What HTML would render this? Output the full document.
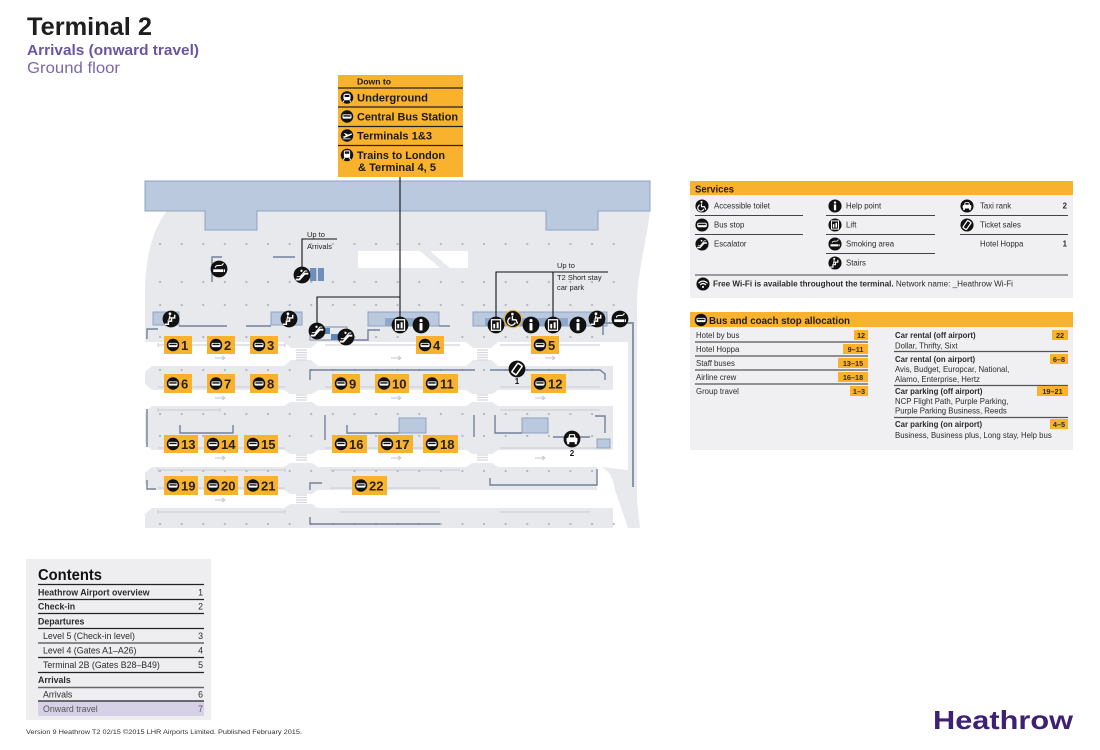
<!DOCTYPE html>
<html><head><meta charset="utf-8"><title>Terminal 2 Arrivals (onward travel)</title>
<style>
html,body{margin:0;padding:0;background:#fff;}
svg{display:block;font-family:"Liberation Sans",sans-serif;}
.b{font-weight:bold;}
</style></head><body>
<svg width="1100" height="750" viewBox="0 0 1100 750" xmlns="http://www.w3.org/2000/svg">
<defs>
<g id="ibus"><circle r="8" fill="#111"/><rect x="-5.8" y="-2.7" width="11.6" height="5.4" rx="1.6" fill="#fff"/><rect x="-4.6" y="-1.6" width="9.2" height="1.8" fill="#111"/></g>
<g id="iinfo"><circle r="8" fill="#111"/><circle cx="0" cy="-4.2" r="1.5" fill="#fff"/><rect x="-1.4" y="-1.8" width="2.8" height="7" fill="#fff"/></g>
<g id="ilift"><circle r="8" fill="#111"/><rect x="-4.3" y="-5" width="8.6" height="10" fill="none" stroke="#fff" stroke-width="1.2"/><rect x="-2.6" y="-1" width="1.8" height="4.2" fill="#fff"/><rect x="0.6" y="-2.6" width="1.9" height="5.8" fill="#fff"/></g>
<g id="iesc"><circle r="8" fill="#111"/><path d="M-6,4.3 L-2.5,4.3 L2.5,-1.2 L6,-1.2" stroke="#fff" stroke-width="1.8" fill="none"/><path d="M-5,1.6 L-1.8,1.6 L2.8,-3.8 L5,-3.8" stroke="#fff" stroke-width="0.9" fill="none"/><circle cx="-0.5" cy="-4" r="1.1" fill="#fff"/></g>
<g id="istairs"><circle r="8" fill="#111"/><path d="M-6,5 L-2.5,5 L-2.5,2 L0.5,2 L0.5,-1 L3.5,-1 L3.5,-4" stroke="#fff" stroke-width="1.4" fill="none"/><circle cx="-1" cy="-5" r="1.3" fill="#fff"/><path d="M-1,-3.5 L-2,1 M-1.5,-1.5 L1,-0.5" stroke="#fff" stroke-width="1.1"/></g>
<g id="ismoke"><circle r="8" fill="#111"/><rect x="-5.5" y="0.3" width="9.5" height="2.6" fill="#fff"/><rect x="4.6" y="0.3" width="1.1" height="2.6" fill="#fff"/><path d="M-3.5,-1.3 Q-3.5,-3.6 0.5,-3.4 Q4,-3.3 4,-5.6" stroke="#fff" stroke-width="1" fill="none"/></g>
<g id="iwc"><circle r="8" fill="#111"/><circle cx="-0.6" cy="-5" r="1.3" fill="#fff"/><path d="M-0.6,-3.2 L-0.6,0.8 L3,0.8 L4.6,4.6" stroke="#fff" stroke-width="1.4" fill="none"/><path d="M-2.6,-1.2 A3.8,3.8 0 1 0 2.2,3.6" stroke="#fff" stroke-width="1.3" fill="none"/></g>
<g id="itaxi"><circle r="8" fill="#111"/><path d="M-3.6,-1 L-2.6,-4.6 L2.6,-4.6 L3.6,-1 Z" fill="#fff"/><rect x="-5.2" y="-1.2" width="10.4" height="4.2" rx="1" fill="#fff"/><rect x="-4.6" y="2.8" width="2" height="2.2" fill="#fff"/><rect x="2.6" y="2.8" width="2" height="2.2" fill="#fff"/><rect x="-2" y="-3.6" width="4" height="2" fill="#111"/></g>
<g id="iticket"><circle r="8" fill="#111"/><rect x="-2.6" y="-5.2" width="5.2" height="10.4" rx="1" fill="none" stroke="#fff" stroke-width="1.5" transform="rotate(35)"/></g>
<g id="itube"><circle r="8" fill="#111"/><rect x="-4.6" y="-5" width="9.2" height="8.6" rx="3" fill="#fff"/><rect x="-3" y="-3.4" width="6" height="2.8" fill="#111"/><path d="M-3.5,3.5 L-5,6 M3.5,3.5 L5,6" stroke="#fff" stroke-width="1.2"/></g>
<g id="iplane"><circle r="8" fill="#111"/><path d="M-6,2 L5,-2.5 Q7,-3 6,-1 L-3,3 Z M-1,0.5 L-4,-3 L-2.5,-3 L2,-0.8 Z" fill="#fff"/><rect x="-5.5" y="3.8" width="10" height="1" fill="#fff"/></g>
<g id="itrain"><circle r="8" fill="#111"/><rect x="-4" y="-6" width="8" height="9.6" rx="2" fill="#fff"/><rect x="-2.8" y="-4.6" width="5.6" height="3" fill="#111"/><path d="M-3,3.5 L-4.6,6.2 M3,3.5 L4.6,6.2" stroke="#fff" stroke-width="1.2"/></g>
<g id="iwifi"><circle r="8" fill="#111"/><path d="M-5.5,-1 Q0,-6 5.5,-1 M-3.6,1.2 Q0,-2.4 3.6,1.2" stroke="#fff" stroke-width="1.4" fill="none"/><circle cx="0" cy="3.6" r="1.3" fill="#fff"/></g>
</defs>

<!-- Title -->
<text x="27" y="35" font-size="25" class="b" fill="#1e1e1e" textLength="125" lengthAdjust="spacingAndGlyphs">Terminal 2</text>
<text x="27" y="55" font-size="15" class="b" fill="#6b55a3" textLength="172" lengthAdjust="spacingAndGlyphs">Arrivals (onward travel)</text>
<text x="27" y="73" font-size="16" fill="#7b68ae" textLength="93" lengthAdjust="spacingAndGlyphs">Ground floor</text>

<!-- ============ MAP ============ -->
<path d="M167,211 L650,211 C646,245 638,270 637,300 L637,528 L145,528 L145,288 C146,255 153,228 167,211 Z" fill="#e8e9ec"/>
<rect x="358" y="251" width="110" height="17" fill="#fff"/>
<path d="M420,251 L430,251 L450,268 L440,268 Z" fill="#e8e9ec"/>
<!-- roads -->
<rect x="145" y="342" width="468" height="24" fill="#fff"/>
<rect x="145" y="390" width="468" height="16" fill="#fff"/>
<rect x="145" y="450" width="468" height="17" fill="#fff"/>
<rect x="145" y="490" width="468" height="18" fill="#fff"/>
<rect x="597" y="467" width="16" height="23" fill="#fff"/>
<rect x="613" y="342" width="15" height="186" fill="#fff"/>
<path d="M600,467 Q612,470 615,490 L628,528 L640,528 L637,500 L628,470 Z" fill="#e8e9ec"/>
<path d="M145,366 L152,366 L145,372 Z M145,390 L152,390 L145,384 Z M145,406 L152,406 L145,412 Z M145,450 L152,450 L145,444 Z M145,467 L152,467 L145,473 Z M145,490 L152,490 L145,484 Z M145,508 L152,508 L145,514 Z" fill="#fff"/>
<g fill="#e8e9ec">
<path d="M284,342 L291,348 L311,348 L318,342 Z M284,366 L291,360 L311,360 L318,366 Z"/>
<path d="M284,390 L290,394 L312,394 L318,390 Z M284,406 L290,402 L312,402 L318,406 Z"/>
<path d="M284,450 L290,454 L312,454 L318,450 Z M284,467 L290,463 L312,463 L318,467 Z"/>
<path d="M284,490 L290,494 L312,494 L318,490 Z M284,508 L290,504 L312,504 L318,508 Z"/>
<path d="M466,342 L473,348 L491,348 L498,342 Z M466,366 L473,360 L491,360 L498,366 Z"/>
<path d="M466,390 L472,394 L492,394 L498,390 Z M466,406 L472,402 L492,402 L498,406 Z"/>
<path d="M466,450 L472,454 L492,454 L498,450 Z M466,467 L472,463 L492,463 L498,467 Z"/>
</g>
<g stroke="#d6d8de" stroke-width="1.2">
<path d="M296,350 H307 M296,352.5 H307 M296,355 H307 M296,357.5 H307 M296,360 H307"/>
<path d="M296,395 H307 M296,397.5 H307 M296,400 H307"/>
<path d="M296,455 H307 M296,457.5 H307 M296,460 H307"/>
<path d="M296,495 H307 M296,497.5 H307 M296,500 H307 M296,502.5 H307"/>
<path d="M477,350 H488 M477,352.5 H488 M477,355 H488 M477,357.5 H488 M477,360 H488"/>
<path d="M477,395 H488 M477,397.5 H488 M477,400 H488"/>
<path d="M477,455 H488 M477,457.5 H488 M477,460 H488"/>
</g>
<!-- dots -->
<g stroke="#b3b8c2" stroke-width="2.2" stroke-linecap="round" stroke-dasharray="0.1 21.5" fill="none">
<path d="M160,244 H630"/>
<path d="M160,282 H630"/>
<path d="M160,305 H630"/>
<path d="M160,337 H610"/>
<path d="M160,370 H610"/>
<path d="M160,414 H610"/>
<path d="M160,436 H610"/>
<path d="M160,471 H610"/>
<path d="M160,524 H630"/>
</g>
<g stroke="#c6cad2" stroke-width="0.9" fill="none">
<path d="M158,345 H285 M158,343 V347 M285,343 V347 M325,345 H460 M500,345 H600"/>
<path d="M158,387 H285 M325,387 H460 M500,387 H600"/>
<path d="M158,410 H220 M158,408 V412 M220,408 V412 M500,410 H600"/>
<path d="M158,448 H285 M325,448 H460 M500,448 H600"/>
<path d="M158,470 H285 M158,468 V472 M285,468 V472 M330,470 H460"/>
<path d="M158,488 H285 M330,488 H440"/>
<path d="M158,512 H285 M158,510 V514 M285,510 V514 M340,512 H440 M500,512 H590"/>
</g>
<g stroke="#c0c4cc" stroke-width="0.9" fill="none">
<path d="M215,358 H225 M222,356 L225,358 L222,360 M391,358 H401 M398,356 L401,358 L398,360 M545,358 H555 M552,356 L555,358 L552,360"/>
<path d="M215,398 H225 M222,396 L225,398 L222,400 M391,398 H401 M398,396 L401,398 L398,400 M535,398 H545 M542,396 L545,398 L542,400"/>
<path d="M215,458 H225 M222,456 L225,458 L222,460 M391,458 H401 M398,456 L401,458 L398,460 M535,458 H545 M542,456 L545,458 L542,460"/>
<path d="M215,500 H225 M222,498 L225,500 L222,502"/>
</g>

<!-- blue band -->
<path d="M145,181 L650,181 L650,211 L598,211 L598,230 L546,230 L546,211 L257,211 L257,230 L205,230 L205,211 L145,211 Z" fill="#bac9dd" stroke="#8ea2c1" stroke-width="1"/>

<g fill="#bac9dd" stroke="#8ea2c1" stroke-width="1">
<rect x="153" y="312" width="26" height="13"/>
<rect x="271" y="312" width="31" height="13"/>
<rect x="368" y="312" width="71" height="14"/>
<rect x="473" y="312" width="134" height="14"/>
<rect x="399" y="418" width="27" height="15"/>
<rect x="522" y="418" width="26" height="15"/>
<rect x="597" y="439" width="13" height="9"/>
</g>
<rect x="385" y="318" width="40" height="8" fill="#8fa8c9"/>
<rect x="485" y="318" width="83" height="8" fill="#8fa8c9"/>
<rect x="310" y="268" width="14" height="13" fill="#6d90bc"/>
<rect x="316.5" y="268" width="1.2" height="13" fill="#fff"/>
<rect x="310" y="327" width="37" height="13" fill="#e8e9ec" stroke="#7d8aa6" stroke-width="1"/>
<rect x="322" y="328" width="8" height="6" fill="#5f86b8"/>
<rect x="331" y="334" width="7" height="6" fill="#5f86b8"/>

<g stroke="#73809c" stroke-width="1.4" fill="none">
<path d="M212,282 L212,257 L222,257"/>
<path d="M273,257 L295,257"/>
<path d="M147,339 L147,329 L158,329"/>
<path d="M179,326 L227,326 M246,326 L271,326"/>
<path d="M347,340 L368,340 L368,330 L380,330"/>
<path d="M439,326 L450,326"/>
<path d="M310,380 L310,370 L475,370 M490,370 L600,370 L605,374 L605,380"/>
<path d="M147,409 L147,447"/>
<path d="M180,425 L180,433 L233,433 L233,425"/>
<path d="M325,415 L325,440"/>
<path d="M347,425 L347,433 L399,433"/>
<path d="M474,415 L474,437"/>
<path d="M495,415 L495,433 L522,433"/>
<path d="M553,437 L590,437"/>
<path d="M595,416 L605,416 L605,433"/>
<path d="M147,480 L147,489 L156,489"/>
<path d="M310,490 L310,483 L322,483"/>
<path d="M490,478 L490,485 L597,485 L597,469"/>
<path d="M310,517 L310,524 L440,524"/>
<path d="M603,323 L603,335"/>
</g>
<path d="M604,323 L633,323 L633,487" stroke="#8894ae" stroke-width="2" fill="none"/>

<g stroke="#111" stroke-width="1.1" fill="none">
<path d="M400,177 L400,318"/>
<path d="M317,324 L317,297 L400,297"/>
<path d="M302,268 L302,239 L337,239"/>
<path d="M496,318 L496,272 L608,272 M553,272 L553,318"/>
</g>
<text x="307" y="237" font-size="7.5" fill="#222">Up to</text>
<text x="307" y="249" font-size="7.5" fill="#222">Arrivals</text>
<text x="557" y="268" font-size="7.5" fill="#222">Up to</text>
<text x="557" y="280" font-size="7.5" fill="#222">T2 Short stay</text>
<text x="557" y="290" font-size="7.5" fill="#222">car park</text>

<use href="#ismoke" transform="translate(219,269) scale(1.05)"/>
<use href="#iesc" transform="translate(302,275) scale(1.05)"/>
<use href="#istairs" transform="translate(171,319) scale(1.05)"/>
<use href="#istairs" transform="translate(289,319) scale(1.05)"/>
<use href="#iesc" transform="translate(317,331) scale(1.05)"/>
<use href="#iesc" transform="translate(346,337) scale(1.05)"/>
<use href="#ilift" transform="translate(400,325) scale(1.05)"/>
<use href="#iinfo" transform="translate(421,325) scale(1.05)"/>
<use href="#ilift" transform="translate(496,325) scale(1.05)"/>
<circle cx="513" cy="319" r="9.2" fill="#f2b13a"/>
<use href="#iwc" transform="translate(513,319) scale(1.0)"/>
<use href="#iinfo" transform="translate(531,325) scale(1.05)"/>
<use href="#ilift" transform="translate(553,325) scale(1.05)"/>
<use href="#iinfo" transform="translate(578,325) scale(1.05)"/>
<use href="#istairs" transform="translate(597,319) scale(1.05)"/>
<use href="#ismoke" transform="translate(620,319) scale(1.05)"/>
<use href="#iticket" transform="translate(517,369) scale(1.05)"/>
<text x="517" y="384" font-size="8" class="b" fill="#111" text-anchor="middle">1</text>
<use href="#itaxi" transform="translate(572,439) scale(1.05)"/>
<text x="572" y="456" font-size="8" class="b" fill="#111" text-anchor="middle">2</text>

<g font-size="13" class="b" fill="#2a2118">
<rect x="164" y="336" width="28" height="18" fill="#f8b22e"/><use href="#ibus" transform="translate(173,345) scale(0.78)"/><text x="181" y="350">1</text>
<rect x="207" y="336" width="28" height="18" fill="#f8b22e"/><use href="#ibus" transform="translate(216,345) scale(0.78)"/><text x="224" y="350">2</text>
<rect x="250" y="336" width="28" height="18" fill="#f8b22e"/><use href="#ibus" transform="translate(259,345) scale(0.78)"/><text x="267" y="350">3</text>
<rect x="416" y="336" width="28" height="18" fill="#f8b22e"/><use href="#ibus" transform="translate(425,345) scale(0.78)"/><text x="433" y="350">4</text>
<rect x="531" y="336" width="28" height="18" fill="#f8b22e"/><use href="#ibus" transform="translate(540,345) scale(0.78)"/><text x="548" y="350">5</text>
<rect x="164" y="374" width="28" height="19" fill="#f8b22e"/><use href="#ibus" transform="translate(173,383.5) scale(0.78)"/><text x="181" y="388.5">6</text>
<rect x="207" y="374" width="28" height="19" fill="#f8b22e"/><use href="#ibus" transform="translate(216,383.5) scale(0.78)"/><text x="224" y="388.5">7</text>
<rect x="250" y="374" width="28" height="19" fill="#f8b22e"/><use href="#ibus" transform="translate(259,383.5) scale(0.78)"/><text x="267" y="388.5">8</text>
<rect x="332" y="374" width="28" height="19" fill="#f8b22e"/><use href="#ibus" transform="translate(341,383.5) scale(0.78)"/><text x="349" y="388.5">9</text>
<rect x="375" y="374" width="34" height="19" fill="#f8b22e"/><use href="#ibus" transform="translate(384,383.5) scale(0.78)"/><text x="392" y="388.5">10</text>
<rect x="423" y="374" width="35" height="19" fill="#f8b22e"/><use href="#ibus" transform="translate(432,383.5) scale(0.78)"/><text x="440" y="388.5">11</text>
<rect x="531" y="374" width="35" height="19" fill="#f8b22e"/><use href="#ibus" transform="translate(540,383.5) scale(0.78)"/><text x="548" y="388.5">12</text>
<rect x="164" y="435" width="34" height="18" fill="#f8b22e"/><use href="#ibus" transform="translate(173,444) scale(0.78)"/><text x="181" y="449">13</text>
<rect x="204" y="435" width="34" height="18" fill="#f8b22e"/><use href="#ibus" transform="translate(213,444) scale(0.78)"/><text x="221" y="449">14</text>
<rect x="244" y="435" width="34" height="18" fill="#f8b22e"/><use href="#ibus" transform="translate(253,444) scale(0.78)"/><text x="261" y="449">15</text>
<rect x="332" y="435" width="35" height="18" fill="#f8b22e"/><use href="#ibus" transform="translate(341,444) scale(0.78)"/><text x="349" y="449">16</text>
<rect x="378" y="435" width="35" height="18" fill="#f8b22e"/><use href="#ibus" transform="translate(387,444) scale(0.78)"/><text x="395" y="449">17</text>
<rect x="423" y="435" width="35" height="18" fill="#f8b22e"/><use href="#ibus" transform="translate(432,444) scale(0.78)"/><text x="440" y="449">18</text>
<rect x="164" y="476" width="34" height="19" fill="#f8b22e"/><use href="#ibus" transform="translate(173,485.5) scale(0.78)"/><text x="181" y="490.5">19</text>
<rect x="204" y="476" width="34" height="19" fill="#f8b22e"/><use href="#ibus" transform="translate(213,485.5) scale(0.78)"/><text x="221" y="490.5">20</text>
<rect x="244" y="476" width="34" height="19" fill="#f8b22e"/><use href="#ibus" transform="translate(253,485.5) scale(0.78)"/><text x="261" y="490.5">21</text>
<rect x="352" y="476" width="35" height="19" fill="#f8b22e"/><use href="#ibus" transform="translate(361,485.5) scale(0.78)"/><text x="369" y="490.5">22</text>
</g>

<!-- ============ Down to box ============ -->
<rect x="338" y="75" width="125" height="102" fill="#f8b22e"/>
<g stroke="#222" stroke-width="1.3"><path d="M338,88 H463 M338,107 H463 M338,126.5 H463 M338,145.5 H463"/></g>
<text x="357" y="84.5" font-size="8" class="b" fill="#1a1a1a" textLength="34" lengthAdjust="spacingAndGlyphs">Down to</text>
<use href="#itube" transform="translate(347,97.5) scale(0.78)"/>
<text x="357" y="101.5" font-size="11" class="b" fill="#1a1a1a" textLength="71" lengthAdjust="spacingAndGlyphs">Underground</text>
<use href="#ibus" transform="translate(347,116.5) scale(0.78)"/>
<text x="357" y="120.5" font-size="11" class="b" fill="#1a1a1a" textLength="101" lengthAdjust="spacingAndGlyphs">Central Bus Station</text>
<use href="#iplane" transform="translate(347,135.5) scale(0.78)"/>
<text x="357" y="139.5" font-size="11" class="b" fill="#1a1a1a" textLength="75" lengthAdjust="spacingAndGlyphs">Terminals 1&amp;3</text>
<use href="#itrain" transform="translate(347,155) scale(0.78)"/>
<text x="357" y="159" font-size="11" class="b" fill="#1a1a1a" textLength="88" lengthAdjust="spacingAndGlyphs">Trains to London</text>
<text x="358" y="171" font-size="11" class="b" fill="#1a1a1a" textLength="78" lengthAdjust="spacingAndGlyphs">&amp; Terminal 4, 5</text>

<!-- ============ Services ============ -->
<rect x="690" y="181" width="383" height="117" fill="#f0f0f2"/>
<rect x="690" y="181" width="383" height="14" fill="#f8b22e"/>
<text x="695" y="192.5" font-size="10.5" class="b" fill="#1e1e1e" textLength="39" lengthAdjust="spacingAndGlyphs">Services</text>
<g stroke="#444" stroke-width="1.1">
<path d="M695,215.5 H803 M695,234.5 H803"/>
<path d="M826,215.5 H935 M826,234.5 H935 M826,253.5 H935"/>
<path d="M960,215.5 H1068 M960,234.5 H1068"/>
<path d="M695,275 H1068"/>
</g>
<g font-size="7.8" fill="#2b2b2b">
<use href="#iwc" transform="translate(702,206) scale(0.82)"/><text x="714" y="208.5">Accessible toilet</text>
<use href="#ibus" transform="translate(702,225) scale(0.82)"/><text x="714" y="227.5">Bus stop</text>
<use href="#iesc" transform="translate(702,244) scale(0.82)"/><text x="714" y="246.5">Escalator</text>
<use href="#iinfo" transform="translate(835,206) scale(0.82)"/><text x="846" y="208.5">Help point</text>
<use href="#ilift" transform="translate(835,225) scale(0.82)"/><text x="846" y="227.5">Lift</text>
<use href="#ismoke" transform="translate(835,244) scale(0.82)"/><text x="846" y="246.5">Smoking area</text>
<use href="#istairs" transform="translate(835,263) scale(0.82)"/><text x="846" y="265.5">Stairs</text>
<use href="#itaxi" transform="translate(967,206) scale(0.82)"/><text x="980" y="208.5">Taxi rank</text>
<text x="1067" y="208.5" text-anchor="end" class="b">2</text>
<use href="#iticket" transform="translate(967,225) scale(0.82)"/><text x="980" y="227.5">Ticket sales</text>
<text x="980" y="246.5">Hotel Hoppa</text>
<text x="1067" y="246.5" text-anchor="end" class="b">1</text>
<use href="#iwifi" transform="translate(703,284) scale(0.82)"/>
<text x="713" y="286.5" textLength="300" lengthAdjust="spacingAndGlyphs"><tspan class="b">Free Wi-Fi is available throughout the terminal.</tspan> Network name: _Heathrow Wi-Fi</text>
</g>

<!-- ============ Bus and coach stop allocation ============ -->
<rect x="690" y="312" width="383" height="138" fill="#f0f0f2"/>
<rect x="690" y="312" width="383" height="15" fill="#f8b22e"/>
<use href="#ibus" transform="translate(701,320) scale(0.78)"/>
<text x="709" y="324" font-size="10.5" class="b" fill="#1e1e1e" textLength="141" lengthAdjust="spacingAndGlyphs">Bus and coach stop allocation</text>
<g stroke="#555" stroke-width="1.3">
<path d="M695,342 H868 M695,356 H868 M695,370 H868 M695,384 H868"/>
<path d="M894,351.5 H1068 M894,385.5 H1068 M894,417.5 H1068"/>
</g>
<g fill="#f8b22e">
<rect x="854" y="330" width="14" height="10"/>
<rect x="843" y="344" width="25" height="10"/>
<rect x="838" y="358" width="30" height="10"/>
<rect x="838" y="372" width="30" height="10"/>
<rect x="850" y="386" width="18" height="10"/>
<rect x="1052" y="330" width="16" height="10"/>
<rect x="1050" y="354" width="18" height="10"/>
<rect x="1037" y="386" width="31" height="10"/>
<rect x="1050" y="419" width="18" height="10"/>
</g>
<g font-size="7.8" fill="#2b2b2b">
<text x="696" y="338">Hotel by bus</text>
<text x="696" y="352">Hotel Hoppa</text>
<text x="696" y="366">Staff buses</text>
<text x="696" y="380">Airline crew</text>
<text x="696" y="394">Group travel</text>
<g class="b" text-anchor="middle" font-size="7.3">
<text x="861" y="338">12</text>
<text x="855.5" y="352">9–11</text>
<text x="853" y="366">13–15</text>
<text x="853" y="380">16–18</text>
<text x="859" y="394">1–3</text>
<text x="1060" y="338">22</text>
<text x="1059" y="362">6–8</text>
<text x="1052.5" y="394">19–21</text>
<text x="1059" y="427">4–5</text>
</g>
<text x="895" y="338" class="b">Car rental (off airport)</text>
<text x="895" y="348.5">Dollar, Thrifty, Sixt</text>
<text x="895" y="362" class="b">Car rental (on airport)</text>
<text x="895" y="372">Avis, Budget, Europcar, National,</text>
<text x="895" y="382">Alamo, Enterprise, Hertz</text>
<text x="895" y="394" class="b">Car parking (off airport)</text>
<text x="895" y="404">NCP Flight Path, Purple Parking,</text>
<text x="895" y="413.5">Purple Parking Business, Reeds</text>
<text x="895" y="427" class="b">Car parking (on airport)</text>
<text x="895" y="438">Business, Business plus, Long stay, Help bus</text>
</g>

<!-- ============ Contents ============ -->
<rect x="26" y="559" width="185" height="161" fill="#eeeef0"/>
<text x="38" y="580" font-size="15.5" class="b" fill="#111" textLength="64" lengthAdjust="spacingAndGlyphs">Contents</text>
<rect x="38" y="701" width="166" height="15" fill="#d7d1e7"/>
<g stroke="#222" stroke-width="1.2">
<path d="M38,584.5 H204 M38,599.5 H204 M38,613.5 H204 M38,628.5 H204 M38,657.5 H204 M38,672.5 H204 M38,701 H204"/>
</g>
<g stroke="#666" stroke-width="1.6">
<path d="M38,643 H204 M38,687.5 H204"/>
</g>
<g font-size="8.8" fill="#2b2b2b">
<text x="38" y="595.5" class="b">Heathrow Airport overview</text><text x="203" y="595.5" text-anchor="end">1</text>
<text x="38" y="609.5" class="b">Check-in</text><text x="203" y="609.5" text-anchor="end">2</text>
<text x="38" y="624.5" class="b">Departures</text>
<text x="43" y="639">Level 5 (Check-in level)</text><text x="203" y="639" text-anchor="end">3</text>
<text x="43" y="653.5">Level 4 (Gates A1–A26)</text><text x="203" y="653.5" text-anchor="end">4</text>
<text x="43" y="668">Terminal 2B (Gates B28–B49)</text><text x="203" y="668" text-anchor="end">5</text>
<text x="38" y="683" class="b">Arrivals</text>
<text x="43" y="697.5">Arrivals</text><text x="203" y="697.5" text-anchor="end">6</text>
<text x="43" y="712" fill="#555">Onward travel</text><text x="203" y="712" text-anchor="end" fill="#555">7</text>
</g>

<text x="26" y="734" font-size="6.8" fill="#333" textLength="276" lengthAdjust="spacingAndGlyphs">Version 9 Heathrow T2 02/15 ©2015 LHR Airports Limited. Published February 2015.</text>

<text x="933" y="729" font-size="26" class="b" fill="#3e2173" textLength="140" lengthAdjust="spacingAndGlyphs">Heathrow</text>
</svg>
</body></html>
